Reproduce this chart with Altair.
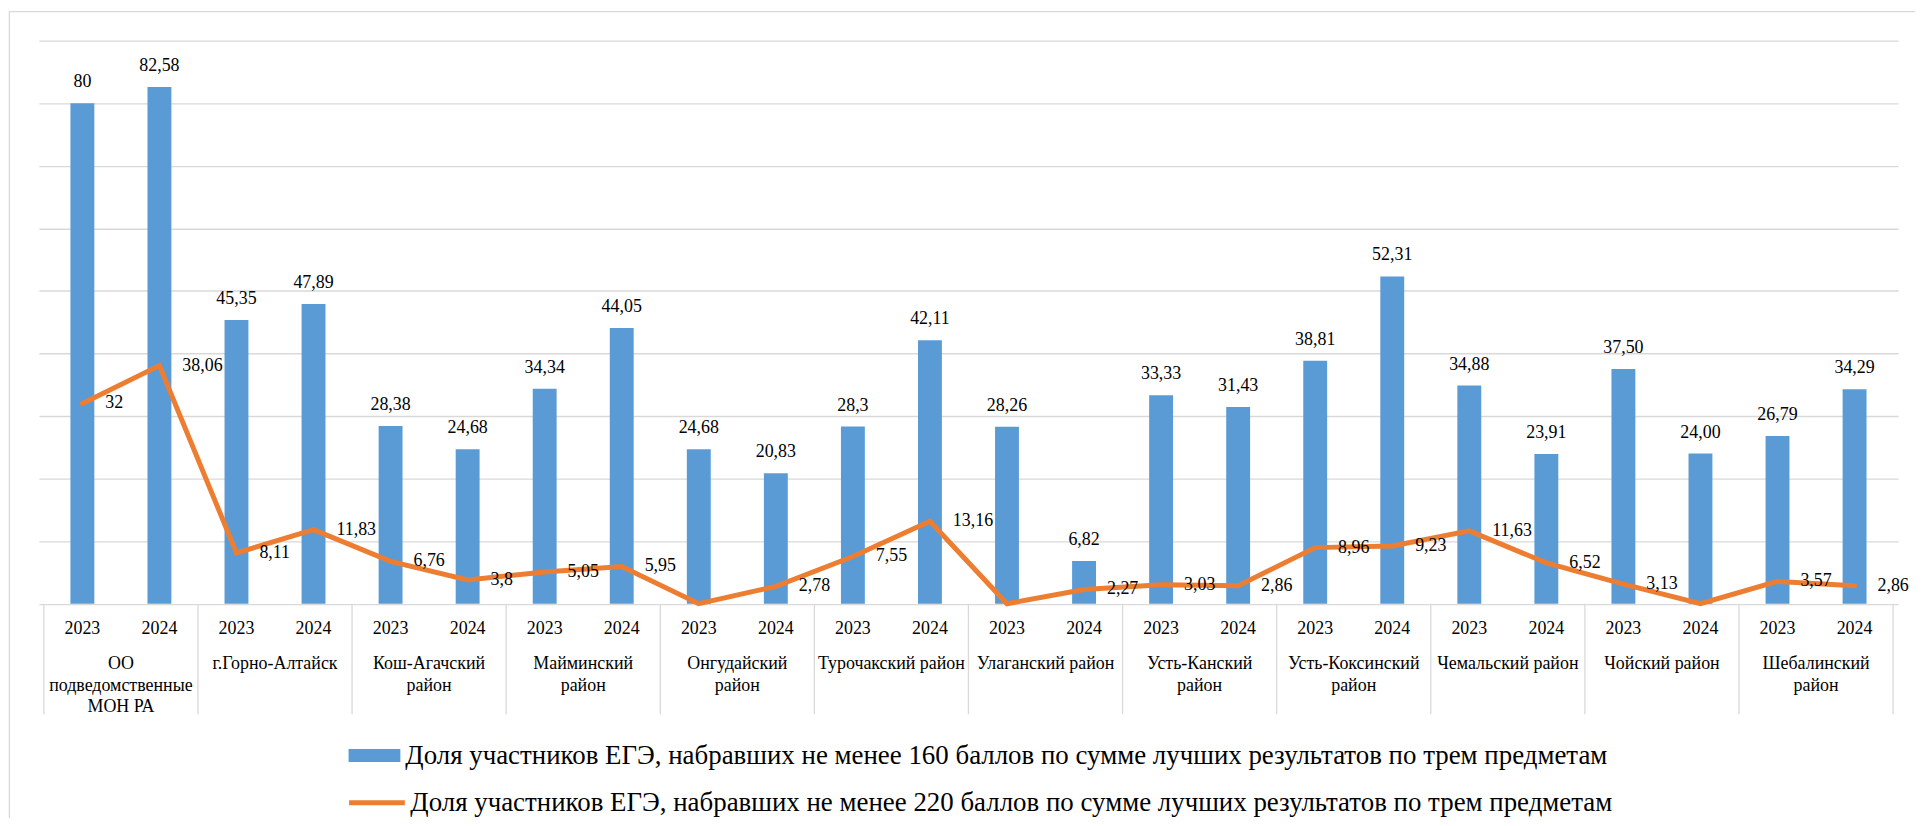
import altair as alt
import pandas as pd

# ---------------- data ----------------
groups = [
    "ОО\nподведомственные\nМОН РА",
    "г.Горно-Алтайск",
    "Кош-Агачский\nрайон",
    "Майминский\nрайон",
    "Онгудайский\nрайон",
    "Турочакский район",
    "Улаганский район",
    "Усть-Канский\nрайон",
    "Усть-Коксинский\nрайон",
    "Чемальский район",
    "Чойский район",
    "Шебалинский\nрайон",
]
years = ["2023", "2024"]

v160 = [80, 82.58, 45.35, 47.89, 28.38, 24.68, 34.34, 44.05, 24.68, 20.83, 28.3, 42.11,
        28.26, 6.82, 33.33, 31.43, 38.81, 52.31, 34.88, 23.91, 37.50, 24.00, 26.79, 34.29]
lab160 = ["80", "82,58", "45,35", "47,89", "28,38", "24,68", "34,34", "44,05", "24,68", "20,83",
          "28,3", "42,11", "28,26", "6,82", "33,33", "31,43", "38,81", "52,31", "34,88", "23,91",
          "37,50", "24,00", "26,79", "34,29"]

v220 = [32, 38.06, 8.11, 11.83, 6.76, 3.8, 5.05, 5.95, 0, 2.78, 7.55, 13.16,
        0, 2.27, 3.03, 2.86, 8.96, 9.23, 11.63, 6.52, 3.13, 0, 3.57, 2.86]
lab220 = ["32", "38,06", "8,11", "11,83", "6,76", "3,8", "5,05", "5,95", "", "2,78", "7,55", "13,16",
          "", "2,27", "3,03", "2,86", "8,96", "9,23", "11,63", "6,52", "3,13", "", "3,57", "2,86"]

s160 = "Доля участников ЕГЭ, набравших не менее 160 баллов по сумме лучших результатов по трем предметам"
s220 = "Доля участников ЕГЭ, набравших не менее 220 баллов по сумме лучших результатов по трем предметам"

# ---------------- tables ----------------
n = len(v160)
df = pd.DataFrame({
    "idx": list(range(n)),
    "group": [groups[i // 2] for i in range(n)],
    "year": [years[i % 2] for i in range(n)],
    "v160": v160,
    "lab160": lab160,
    "v220": v220,
    "lab220": lab220,
    "s160": [s160] * n,
    "s220": [s220] * n,
})
df["pos"] = df["idx"] + 0.5

gdf = pd.DataFrame({"gidx": list(range(len(groups))), "group": groups})
gdf["pos"] = gdf["gidx"] * 2 + 1
bdf = pd.DataFrame({"pos": [j * 2 for j in range(len(groups) + 1)]})

W = 1867
H = 565.5
FONT = "'Liberation Serif', 'Times New Roman', serif"
BLUE = "#5B9BD5"
ORANGE = "#ED7D31"
GRID = "#d9d9d9"

xs = alt.Scale(domain=[0, n])
ys = alt.Scale(domain=[0, 90], nice=False)
X = alt.X("pos:Q", scale=xs, axis=None)

base = alt.Chart(df)

frame = alt.Chart(pd.DataFrame({"a": [0]})).mark_rect(
    fillOpacity=0, stroke=GRID, strokeWidth=1.3
).encode(
    x=alt.value(-29.6), x2=alt.value(W + 300),
    y=alt.value(-29), y2=alt.value(H + 400),
)

bars = base.mark_bar(size=24).encode(
    x=X,
    y=alt.Y("v160:Q", scale=ys,
            axis=alt.Axis(values=list(range(0, 100, 10)), grid=True, gridColor=GRID,
                          gridWidth=1.3, labels=False, ticks=False, domain=False, title=None)),
    fill=alt.Fill("s160:N", scale=alt.Scale(range=[BLUE]),
                  legend=alt.Legend(title=None, orient="none", legendX=311, legendY=692,
                                    symbolType="M-1,-0.25H1V0.25H-1Z", symbolSize=2704,
                                    symbolStrokeWidth=0, labelFont=FONT, labelFontSize=27,
                                    labelColor="black", labelLimit=0, labelOffset=5,
                                    padding=0)),
)

bar_labels = base.mark_text(font=FONT, fontSize=18, color="black", baseline="alphabetic",
                            dy=-16).encode(
    x=X, y=alt.Y("v160:Q", scale=ys), text="lab160:N")

line = base.mark_line(strokeWidth=5, strokeCap="round").encode(
    x=X,
    y=alt.Y("v220:Q", scale=ys),
    stroke=alt.Stroke("s220:N", scale=alt.Scale(range=[ORANGE]),
                      legend=alt.Legend(title=None, orient="none", legendX=309, legendY=735,
                                        symbolType="stroke", symbolSize=3136,
                                        symbolStrokeWidth=5, labelFont=FONT, labelFontSize=27,
                                        labelColor="black", labelLimit=0, labelOffset=3,
                                        padding=0)),
)

line_labels = base.mark_text(font=FONT, fontSize=18, color="black", align="left",
                             baseline="middle", dx=23).encode(
    x=X, y=alt.Y("v220:Q", scale=ys), text="lab220:N")

year_labels = base.mark_text(font=FONT, fontSize=18, color="black", baseline="middle").encode(
    x=X, y=alt.value(H + 25), text="year:N")

group_labels = alt.Chart(gdf).mark_text(font=FONT, fontSize=18, color="black", baseline="top",
                                        lineBreak="\n", lineHeight=21.5).encode(
    x=alt.X("pos:Q", scale=xs, axis=None), y=alt.value(H + 52), text="group:N")

dividers = alt.Chart(bdf).mark_rule(color=GRID, strokeWidth=1.3).encode(
    x=alt.X("pos:Q", scale=xs, axis=None), y=alt.value(H), y2=alt.value(H + 111))

chart = alt.layer(
    frame, bars, line, bar_labels, line_labels, year_labels, group_labels, dividers
).resolve_scale(fill="independent", stroke="independent").properties(
    width=W, height=H,
    autosize=alt.AutoSizeParams(type="none"),
    padding={"left": 31, "top": 31, "right": 17, "bottom": 213},
).configure_view(stroke=None)

chart.save("out.html", embed_options={"renderer": "svg", "actions": False})
